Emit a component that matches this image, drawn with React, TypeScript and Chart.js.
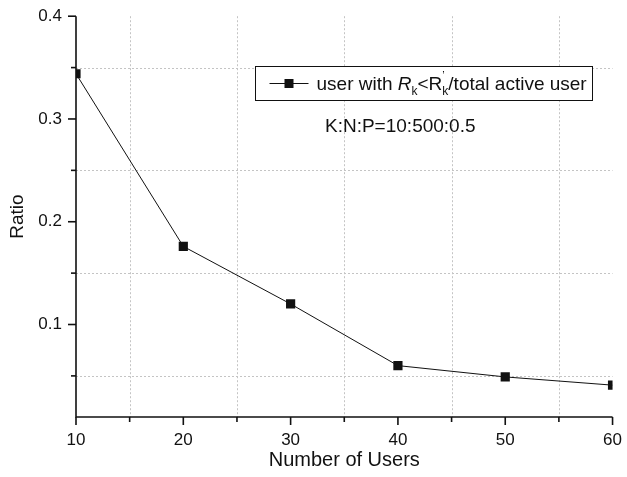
import React, { useEffect, useRef } from 'react';
import { Chart, registerables } from 'chart.js';

Chart.register(...registerables);

const users = [10, 20, 30, 40, 50, 60];
const ratio = [0.344, 0.176, 0.12, 0.06, 0.049, 0.041];
const xTickValues = [10, 15, 20, 25, 30, 35, 40, 45, 50, 55, 60];
const yTickValues = [0.05, 0.1, 0.15, 0.2, 0.25, 0.3, 0.35, 0.4];
const xTitle = 'Number of Users';
const yTitle = 'Ratio';
const annotationText = 'K:N:P=10:500:0.5';
const FONT = '"Liberation Sans", Arial, Helvetica, sans-serif';

const isMajorX = (v: number) => Math.round(v) % 10 === 0;
const isMajorY = (v: number) => Math.round(v * 100) % 10 === 0;

const framePlugin = {
  id: 'frame',
  beforeDatasetsDraw(chart: any) {
    const { ctx, chartArea, scales } = chart;
    const xs = scales.x;
    const ys = scales.y;
    ctx.save();
    ctx.strokeStyle = '#c4c4c4';
    ctx.lineWidth = 1;
    ctx.setLineDash([2, 2]);
    xTickValues.forEach((v) => {
      if (isMajorX(v)) return;
      const px = Math.round(xs.getPixelForValue(v)) + 0.5;
      ctx.beginPath();
      ctx.moveTo(px, chartArea.top);
      ctx.lineTo(px, chartArea.bottom);
      ctx.stroke();
    });
    yTickValues.forEach((v) => {
      if (isMajorY(v)) return;
      const py = Math.round(ys.getPixelForValue(v)) + 0.5;
      ctx.beginPath();
      ctx.moveTo(chartArea.left, py);
      ctx.lineTo(chartArea.right, py);
      ctx.stroke();
    });
    ctx.setLineDash([]);
    ctx.strokeStyle = '#111';
    ctx.lineWidth = 1.6;
    ctx.beginPath();
    ctx.moveTo(chartArea.left, chartArea.top);
    ctx.lineTo(chartArea.left, chartArea.bottom);
    ctx.lineTo(chartArea.right, chartArea.bottom);
    ctx.stroke();
    xTickValues.forEach((v) => {
      const px = xs.getPixelForValue(v);
      const len = isMajorX(v) ? 8 : 5;
      ctx.beginPath();
      ctx.moveTo(px, chartArea.bottom);
      ctx.lineTo(px, chartArea.bottom + len);
      ctx.stroke();
    });
    yTickValues.forEach((v) => {
      const py = ys.getPixelForValue(v);
      const len = isMajorY(v) ? 8 : 5;
      ctx.beginPath();
      ctx.moveTo(chartArea.left, py);
      ctx.lineTo(chartArea.left - len, py);
      ctx.stroke();
    });
    ctx.restore();
  },
  afterDraw(chart: any) {
    const { ctx } = chart;
    ctx.save();
    const bx = 255.5, by = 66.5, bw = 337, bh = 34;
    ctx.fillStyle = '#fff';
    ctx.fillRect(bx, by, bw, bh);
    ctx.strokeStyle = '#111';
    ctx.lineWidth = 1;
    ctx.strokeRect(bx, by, bw, bh);
    const cy = by + bh / 2;
    ctx.beginPath();
    ctx.moveTo(bx + 14, cy);
    ctx.lineTo(bx + 53, cy);
    ctx.stroke();
    ctx.fillStyle = '#111';
    ctx.fillRect(bx + 29, cy - 4.5, 9, 9);
    const parts = [
      { t: 'user with ', f: `19px ${FONT}`, dy: 0, adv: true },
      { t: 'R', f: `italic 19px ${FONT}`, dy: 0, adv: true },
      { t: 'k', f: `12px ${FONT}`, dy: 5, adv: true },
      { t: '<R', f: `19px ${FONT}`, dy: 0, adv: true },
      { t: '\u2019', f: `11px ${FONT}`, dy: -11, adv: false },
      { t: 'k', f: `12px ${FONT}`, dy: 5, adv: true },
      { t: '/total active user', f: `19px ${FONT}`, dy: 0, adv: true },
    ];
    let x = bx + 61;
    const base = cy + 6.5;
    ctx.textBaseline = 'alphabetic';
    ctx.textAlign = 'left';
    parts.forEach((p) => {
      ctx.font = p.f;
      ctx.fillText(p.t, x, base + p.dy);
      if (p.adv) x += ctx.measureText(p.t).width;
    });
    ctx.font = `19px ${FONT}`;
    ctx.fillText(annotationText, 325, 132);
    ctx.restore();
  },
};

export default function App() {
  const ref = useRef<HTMLCanvasElement>(null);
  useEffect(() => {
    if (!ref.current) return;
    const chart = new Chart(ref.current, {
      type: 'line',
      data: {
        datasets: [
          {
            label: "user with Rk<R'k/total active user",
            data: users.map((u, i) => ({ x: u, y: ratio[i] })),
            borderColor: '#111',
            backgroundColor: '#111',
            borderWidth: 1,
            pointStyle: 'rect',
            pointRadius: 6.5,
            pointBorderWidth: 0,
            tension: 0,
          },
        ],
      },
      options: {
        animation: false,
        responsive: false,
        layout: { padding: { left: 0, right: 11, top: 14, bottom: 0 } },
        plugins: { legend: { display: false }, tooltip: { enabled: false } },
        scales: {
          x: {
            type: 'linear',
            min: 10,
            max: 60,
            afterBuildTicks: (s: any) => {
              s.ticks = xTickValues.map((v) => ({ value: v }));
            },
            afterFit: (s: any) => {
              s.height = 60;
            },
            ticks: {
              autoSkip: false,
              maxRotation: 0,
              padding: 5,
              color: '#111',
              font: { family: FONT, size: 17 },
              callback: (v: any) => (isMajorX(Number(v)) ? String(v) : ''),
            },
            grid: { display: true, drawOnChartArea: false, drawTicks: true, tickLength: 8, color: 'transparent' },
            border: { display: false },
            title: { display: true, text: xTitle, color: '#111', font: { family: FONT, size: 20 }, padding: { top: 0, bottom: 5 } },
          },
          y: {
            type: 'linear',
            min: 0.01,
            max: 0.4,
            afterBuildTicks: (s: any) => {
              s.ticks = yTickValues.map((v) => ({ value: v }));
            },
            afterFit: (s: any) => {
              s.width = 76;
            },
            ticks: {
              autoSkip: false,
              padding: 6,
              color: '#111',
              font: { family: FONT, size: 17 },
              callback: (v: any) => (isMajorY(Number(v)) ? Number(v).toFixed(1) : ''),
            },
            grid: { display: true, drawOnChartArea: false, drawTicks: true, tickLength: 8, color: 'transparent' },
            border: { display: false },
            title: { display: true, text: yTitle, color: '#111', font: { family: FONT, size: 19 }, padding: { top: 6, bottom: 0 } },
          },
        },
      },
      plugins: [framePlugin],
    });
    return () => chart.destroy();
  }, []);
  return (
    <div style={{ position: 'absolute', left: 0, top: 0, width: 627, height: 477 }}>
      <canvas ref={ref} width={627} height={477} style={{ display: 'block' }} />
    </div>
  );
}
